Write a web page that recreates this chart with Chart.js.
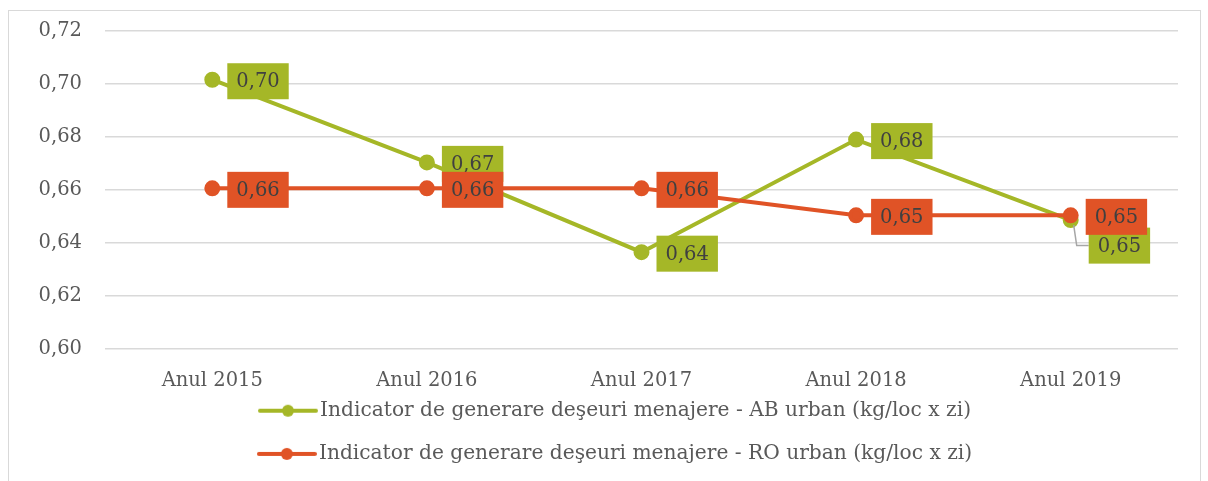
<!DOCTYPE html>
<html>
<head>
<meta charset="utf-8">
<script src="https://cdn.jsdelivr.net/npm/chart.js@4"></script>
<style>
  html, body { margin: 0; padding: 0; background: #fff; overflow: hidden; }
  .frame { position: absolute; left: 8px; top: 10px; width: 1191px; height: 480px;
           border: 1px solid #d9d9d9; border-bottom: none; }
  .box { position: absolute; left: 0; top: 0; width: 1208px; height: 474px; }
</style>
</head>
<body>
<div class="frame"></div>
<div class="box"><canvas id="chart"></canvas></div>
<script>
const years = ['Anul 2015', 'Anul 2016', 'Anul 2017', 'Anul 2018', 'Anul 2019'];
const abUrban = [0.7016, 0.6704, 0.6365, 0.679, 0.6486];
const roUrban = [0.6606, 0.6606, 0.6606, 0.6504, 0.6504];
const seriesNames = [
  'Indicator de generare deşeuri menajere - AB urban (kg/loc x zi)',
  'Indicator de generare deşeuri menajere - RO urban (kg/loc x zi)'
];
const green = '#a5b727';
const orange = '#e05326';
const fontFam = '"DejaVu Serif", serif';
const fontSize = 19.5;

// label nudges (dataset -> point -> [dx, dy]) for the overlapping one
const labelShift = {0: {4: [3, 24]}};

function legendIcon(color) {
  const c = document.createElement('canvas');
  c.width = 60; c.height = 14;
  const g = c.getContext('2d');
  g.strokeStyle = color; g.lineWidth = 4; g.lineCap = 'round';
  g.beginPath(); g.moveTo(2, 7); g.lineTo(58, 7); g.stroke();
  g.fillStyle = color;
  g.beginPath(); g.arc(30, 7, 6, 0, Math.PI * 2); g.fill();
  return c;
}

// x tick labels must not be clipped by the squeezed axis box,
// and the legend sits a bit right of the canvas centre
const tweakLayout = {
  id: 'tweakLayout',
  afterLayout(chart) {
    chart.scales.x.bottom += 25;
    chart.legend.left += 29.5;
    chart.legend.right += 29.5;
  }
};

const boxLabels = {
  id: 'boxLabels',
  afterDatasetsDraw(chart) {
    const ctx = chart.ctx;
    ctx.save();
    ctx.font = fontSize + 'px ' + fontFam;
    ctx.textBaseline = 'middle';
    chart.data.datasets.forEach((ds, di) => {
      const meta = chart.getDatasetMeta(di);
      meta.data.forEach((pt, i) => {
        const txt = ds.data[i].toFixed(2).replace('.', ',');
        const sh = (labelShift[di] && labelShift[di][i]) || [0, 0];
        const w = ctx.measureText(txt).width + 18;
        const h = 36;
        const x = pt.x + 15 + sh[0];
        const y = pt.y + 1.5 + sh[1] - h / 2;
        if (sh[1]) {
          ctx.strokeStyle = '#a6a6a6'; ctx.lineWidth = 1.5;
          ctx.beginPath();
          ctx.moveTo(pt.x + 3, pt.y + 5);
          ctx.lineTo(pt.x + 6, y + h / 2);
          ctx.lineTo(x, y + h / 2);
          ctx.stroke();
        }
        ctx.fillStyle = ds.borderColor;
        ctx.fillRect(x, y, w, h);
        ctx.fillStyle = '#404040';
        ctx.fillText(txt, x + 9, y + h / 2 + 1);
      });
    });
    ctx.restore();
  }
};

const data = {
  labels: years,
  datasets: [
    { label: seriesNames[0], data: abUrban, borderColor: green, backgroundColor: green,
      borderWidth: 4, pointRadius: 6, pointHoverRadius: 6, order: 2 },
    { label: seriesNames[1], data: roUrban, borderColor: orange, backgroundColor: orange,
      borderWidth: 4, pointRadius: 6, pointHoverRadius: 6, order: 1 }
  ]
};

const config = {
  type: 'line',
  data: data,
  plugins: [boxLabels, tweakLayout],
  options: {
    responsive: true,
    maintainAspectRatio: false,
    animation: false,
    layout: { padding: { left: 0, right: 30, top: 0, bottom: 0 } },
    scales: {
      x: {
        offset: true,
        afterFit(scale) { scale.height = 28.75; },
        grid: { display: false, drawTicks: false },
        border: { display: false },
        ticks: { color: '#595959', font: { family: fontFam, size: fontSize }, padding: 20 }
      },
      y: {
        min: 0.6, max: 0.72,
        afterFit(scale) { scale.width = 105; scale.paddingTop = 31; },
        grid: { color: '#d9d9d9', lineWidth: 1.5, drawTicks: false },
        border: { display: false },
        ticks: {
          stepSize: 0.02, padding: 23, color: '#595959',
          font: { family: fontFam, size: fontSize },
          callback: v => v.toFixed(2).replace('.', ',')
        }
      }
    },
    plugins: {
      tooltip: { enabled: false },
      legend: {
        position: 'bottom',
        labels: {
          color: '#595959',
          font: { family: fontFam, size: 20.2 },
          usePointStyle: true,
          pointStyleWidth: 44,
          padding: 23,
          sort: (a, b) => a.datasetIndex - b.datasetIndex,
          generateLabels(chart) {
            return chart.data.datasets.map((ds, i) => ({
              text: ds.label, datasetIndex: i, fontColor: '#595959',
              pointStyle: legendIcon(ds.borderColor), lineWidth: 0,
              fillStyle: ds.borderColor, strokeStyle: ds.borderColor
            }));
          }
        }
      }
    }
  }
};

const chart = new Chart(document.getElementById('chart'), config);
</script>
</body>
</html>
